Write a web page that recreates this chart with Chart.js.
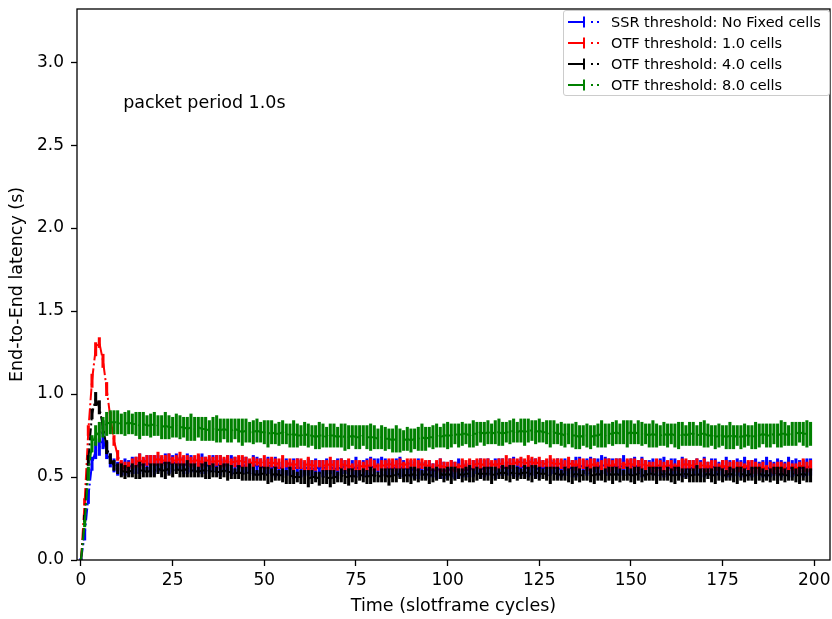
<!DOCTYPE html>
<html>
<head>
<meta charset="utf-8">
<title>End-to-End latency</title>
<script src="https://cdn.jsdelivr.net/npm/chart.js@4"></script>
<style>
  body { margin: 0; background: #fff; }
  #wrap { position: relative; width: 832px; height: 619px; }
  #legend {
    position: absolute; left: 563px; top: 10px; width: 267px; height: 86px;
    box-sizing: border-box; border: 1px solid #ccc; border-radius: 3px;
    background: rgba(255, 255, 255, 0.8);
    font: 14.5px 'DejaVu Sans', sans-serif; color: #000; padding-top: 0px;
  }
  .row { height: 21px; display: flex; align-items: center; white-space: nowrap; }
  .row svg { margin-left: 4px; margin-right: 8px; flex: none; }
</style>
</head>
<body>
<div id="wrap">
  <canvas id="latencyChart" width="832" height="619"></canvas>
  <div id="legend"></div>
</div>
<script>
// cycle index of every sample (0..199)
const CYCLES = Array.from({ length: 200 }, (_, i) => i);

const SERIES_LABELS = [
    'SSR threshold: No Fixed cells',
    'OTF threshold: 1.0 cells',
    'OTF threshold: 4.0 cells',
    'OTF threshold: 8.0 cells'
];
const SERIES_COLORS = ['#0000ff', '#ff0000', '#000000', '#008000'];

// SSR, no fixed cells (blue)
const SSR_MEAN = [
    0.00, 0.15, 0.38, 0.58, 0.66, 0.68, 0.72, 0.66, 0.60, 0.57,
    0.55, 0.55, 0.56, 0.56, 0.57, 0.57, 0.58, 0.57, 0.58, 0.58,
    0.57, 0.58, 0.58, 0.59, 0.58, 0.58, 0.59, 0.58, 0.57, 0.58,
    0.58, 0.57, 0.58, 0.58, 0.57, 0.57, 0.58, 0.58, 0.57, 0.57,
    0.58, 0.57, 0.57, 0.56, 0.57, 0.57, 0.56, 0.57, 0.57, 0.56,
    0.56, 0.57, 0.56, 0.56, 0.55, 0.56, 0.56, 0.55, 0.55, 0.56,
    0.55, 0.55, 0.56, 0.55, 0.55, 0.56, 0.55, 0.56, 0.56, 0.55,
    0.55, 0.56, 0.56, 0.55, 0.55, 0.56, 0.55, 0.55, 0.56, 0.56,
    0.56, 0.57, 0.56, 0.56, 0.55, 0.55, 0.56, 0.56, 0.55, 0.55,
    0.55, 0.54, 0.55, 0.55, 0.54, 0.55, 0.54, 0.54, 0.55, 0.54,
    0.54, 0.55, 0.54, 0.55, 0.55, 0.54, 0.55, 0.55, 0.56, 0.55,
    0.55, 0.56, 0.55, 0.55, 0.56, 0.56, 0.55, 0.56, 0.56, 0.55,
    0.56, 0.56, 0.55, 0.56, 0.55, 0.55, 0.56, 0.55, 0.56, 0.56,
    0.55, 0.55, 0.56, 0.56, 0.55, 0.56, 0.57, 0.56, 0.56, 0.57,
    0.57, 0.56, 0.57, 0.57, 0.56, 0.57, 0.56, 0.56, 0.57, 0.56,
    0.56, 0.57, 0.56, 0.56, 0.55, 0.56, 0.56, 0.55, 0.56, 0.56,
    0.55, 0.56, 0.56, 0.55, 0.56, 0.55, 0.55, 0.56, 0.56, 0.55,
    0.56, 0.55, 0.56, 0.56, 0.55, 0.55, 0.56, 0.55, 0.55, 0.56,
    0.55, 0.56, 0.55, 0.55, 0.56, 0.55, 0.55, 0.56, 0.55, 0.55,
    0.56, 0.55, 0.55, 0.56, 0.55, 0.56, 0.56, 0.55, 0.56, 0.56
];
const SSR_ERR = [
    0.01, 0.03, 0.04, 0.04, 0.05, 0.05, 0.05, 0.05, 0.04, 0.04,
    0.04, 0.04, 0.05, 0.04, 0.05, 0.05, 0.06, 0.04, 0.05, 0.05,
    0.06, 0.05, 0.04, 0.05, 0.06, 0.05, 0.05, 0.04, 0.05, 0.06,
    0.05, 0.04, 0.05, 0.06, 0.05, 0.04, 0.05, 0.05, 0.06, 0.04,
    0.05, 0.06, 0.05, 0.04, 0.05, 0.05, 0.04, 0.06, 0.05, 0.05,
    0.04, 0.05, 0.05, 0.06, 0.04, 0.05, 0.05, 0.04, 0.06, 0.05,
    0.05, 0.04, 0.05, 0.05, 0.06, 0.04, 0.05, 0.05, 0.04, 0.05,
    0.06, 0.05, 0.04, 0.05, 0.05, 0.06, 0.04, 0.05, 0.05, 0.06,
    0.05, 0.04, 0.06, 0.05, 0.05, 0.04, 0.05, 0.06, 0.05, 0.04,
    0.05, 0.05, 0.06, 0.04, 0.05, 0.05, 0.04, 0.05, 0.06, 0.05,
    0.04, 0.05, 0.05, 0.06, 0.05, 0.04, 0.05, 0.05, 0.04, 0.06,
    0.05, 0.05, 0.04, 0.06, 0.05, 0.05, 0.04, 0.05, 0.06, 0.05,
    0.05, 0.04, 0.05, 0.05, 0.06, 0.05, 0.04, 0.05, 0.05, 0.04,
    0.06, 0.05, 0.05, 0.04, 0.05, 0.06, 0.05, 0.04, 0.05, 0.05,
    0.04, 0.05, 0.06, 0.05, 0.05, 0.04, 0.05, 0.05, 0.06, 0.04,
    0.05, 0.05, 0.04, 0.06, 0.05, 0.04, 0.05, 0.05, 0.05, 0.06,
    0.04, 0.05, 0.05, 0.04, 0.06, 0.05, 0.05, 0.04, 0.05, 0.05,
    0.06, 0.04, 0.05, 0.05, 0.04, 0.05, 0.06, 0.05, 0.04, 0.05,
    0.05, 0.06, 0.04, 0.05, 0.05, 0.04, 0.05, 0.06, 0.05, 0.04,
    0.05, 0.05, 0.04, 0.06, 0.05, 0.05, 0.04, 0.05, 0.05, 0.05
];

// OTF threshold 1.0 cells (red)
const OTF1_MEAN = [
    0.00, 0.35, 0.78, 1.08, 1.27, 1.31, 1.20, 1.03, 0.86, 0.72,
    0.63, 0.57, 0.56, 0.57, 0.58, 0.59, 0.60, 0.59, 0.60, 0.60,
    0.60, 0.61, 0.60, 0.60, 0.61, 0.60, 0.60, 0.61, 0.60, 0.60,
    0.59, 0.60, 0.60, 0.59, 0.60, 0.60, 0.59, 0.60, 0.59, 0.59,
    0.60, 0.59, 0.59, 0.60, 0.59, 0.59, 0.58, 0.59, 0.59, 0.58,
    0.59, 0.58, 0.59, 0.58, 0.58, 0.59, 0.58, 0.58, 0.57, 0.58,
    0.58, 0.57, 0.58, 0.57, 0.57, 0.58, 0.57, 0.57, 0.58, 0.57,
    0.57, 0.58, 0.57, 0.57, 0.56, 0.57, 0.57, 0.56, 0.57, 0.57,
    0.57, 0.56, 0.57, 0.57, 0.58, 0.57, 0.57, 0.58, 0.57, 0.58,
    0.58, 0.57, 0.57, 0.58, 0.57, 0.57, 0.56, 0.57, 0.57, 0.56,
    0.56, 0.57, 0.56, 0.56, 0.57, 0.57, 0.58, 0.57, 0.58, 0.58,
    0.57, 0.58, 0.58, 0.57, 0.58, 0.58, 0.59, 0.58, 0.58, 0.59,
    0.59, 0.58, 0.59, 0.59, 0.58, 0.59, 0.58, 0.58, 0.59, 0.58,
    0.58, 0.58, 0.57, 0.58, 0.58, 0.57, 0.58, 0.58, 0.57, 0.57,
    0.58, 0.57, 0.57, 0.58, 0.57, 0.57, 0.58, 0.58, 0.57, 0.58,
    0.58, 0.57, 0.57, 0.58, 0.57, 0.57, 0.56, 0.57, 0.57, 0.56,
    0.57, 0.57, 0.56, 0.57, 0.57, 0.58, 0.57, 0.57, 0.58, 0.57,
    0.57, 0.56, 0.57, 0.57, 0.56, 0.57, 0.56, 0.56, 0.57, 0.56,
    0.56, 0.56, 0.57, 0.56, 0.56, 0.55, 0.56, 0.55, 0.56, 0.55,
    0.55, 0.56, 0.55, 0.56, 0.56, 0.55, 0.56, 0.57, 0.56, 0.57
];
const OTF1_ERR = [
    0.00, 0.02, 0.03, 0.04, 0.04, 0.03, 0.04, 0.04, 0.03, 0.03,
    0.03, 0.03, 0.03, 0.02, 0.03, 0.03, 0.04, 0.03, 0.03, 0.03,
    0.03, 0.04, 0.03, 0.03, 0.03, 0.02, 0.03, 0.04, 0.03, 0.03,
    0.03, 0.03, 0.04, 0.03, 0.02, 0.03, 0.03, 0.03, 0.04, 0.03,
    0.03, 0.02, 0.03, 0.03, 0.04, 0.03, 0.03, 0.03, 0.02, 0.03,
    0.04, 0.03, 0.03, 0.03, 0.03, 0.04, 0.02, 0.03, 0.03, 0.03,
    0.03, 0.03, 0.04, 0.03, 0.03, 0.02, 0.03, 0.03, 0.04, 0.03,
    0.03, 0.03, 0.03, 0.04, 0.02, 0.03, 0.03, 0.03, 0.03, 0.04,
    0.03, 0.02, 0.03, 0.03, 0.03, 0.04, 0.03, 0.03, 0.02, 0.03,
    0.03, 0.04, 0.03, 0.03, 0.03, 0.03, 0.02, 0.03, 0.04, 0.03,
    0.03, 0.03, 0.03, 0.02, 0.04, 0.03, 0.03, 0.03, 0.03, 0.03,
    0.04, 0.03, 0.02, 0.03, 0.03, 0.03, 0.04, 0.03, 0.03, 0.02,
    0.03, 0.03, 0.04, 0.03, 0.03, 0.03, 0.02, 0.03, 0.04, 0.03,
    0.03, 0.03, 0.03, 0.04, 0.02, 0.03, 0.03, 0.03, 0.03, 0.04,
    0.03, 0.02, 0.03, 0.03, 0.04, 0.03, 0.03, 0.03, 0.02, 0.03,
    0.03, 0.04, 0.03, 0.03, 0.03, 0.02, 0.03, 0.04, 0.03, 0.03,
    0.03, 0.03, 0.02, 0.03, 0.04, 0.03, 0.03, 0.03, 0.03, 0.02,
    0.04, 0.03, 0.03, 0.03, 0.02, 0.03, 0.04, 0.03, 0.03, 0.03,
    0.03, 0.02, 0.03, 0.04, 0.03, 0.03, 0.03, 0.02, 0.03, 0.03,
    0.04, 0.03, 0.03, 0.03, 0.02, 0.03, 0.03, 0.04, 0.03, 0.03
];

// OTF threshold 4.0 cells (black)
const OTF4_MEAN = [
    0.00, 0.25, 0.60, 0.88, 0.97, 0.92, 0.80, 0.68, 0.61, 0.57,
    0.55, 0.54, 0.53, 0.53, 0.54, 0.53, 0.54, 0.54, 0.53, 0.54,
    0.54, 0.55, 0.54, 0.54, 0.55, 0.54, 0.55, 0.54, 0.54, 0.55,
    0.54, 0.54, 0.53, 0.54, 0.54, 0.53, 0.54, 0.53, 0.53, 0.54,
    0.53, 0.53, 0.52, 0.53, 0.52, 0.52, 0.53, 0.52, 0.51, 0.52,
    0.52, 0.51, 0.51, 0.52, 0.51, 0.51, 0.50, 0.51, 0.50, 0.50,
    0.50, 0.50, 0.49, 0.50, 0.50, 0.49, 0.50, 0.50, 0.49, 0.50,
    0.50, 0.51, 0.50, 0.50, 0.51, 0.50, 0.51, 0.51, 0.50, 0.51,
    0.51, 0.50, 0.51, 0.51, 0.50, 0.51, 0.51, 0.52, 0.51, 0.51,
    0.51, 0.52, 0.51, 0.51, 0.52, 0.51, 0.51, 0.52, 0.52, 0.51,
    0.52, 0.51, 0.52, 0.52, 0.51, 0.52, 0.52, 0.51, 0.52, 0.52,
    0.52, 0.52, 0.51, 0.52, 0.52, 0.53, 0.52, 0.52, 0.53, 0.52,
    0.52, 0.53, 0.52, 0.52, 0.53, 0.52, 0.52, 0.52, 0.51, 0.52,
    0.52, 0.51, 0.52, 0.51, 0.51, 0.52, 0.51, 0.51, 0.52, 0.51,
    0.51, 0.52, 0.51, 0.51, 0.52, 0.51, 0.52, 0.51, 0.51, 0.52,
    0.51, 0.51, 0.52, 0.51, 0.51, 0.52, 0.52, 0.51, 0.52, 0.51,
    0.52, 0.51, 0.51, 0.52, 0.51, 0.52, 0.51, 0.51, 0.52, 0.51,
    0.51, 0.52, 0.51, 0.51, 0.52, 0.51, 0.51, 0.52, 0.51, 0.51,
    0.52, 0.51, 0.51, 0.52, 0.51, 0.52, 0.51, 0.51, 0.51, 0.52,
    0.51, 0.52, 0.51, 0.51, 0.52, 0.51, 0.51, 0.52, 0.51, 0.51
];
const OTF4_ERR = [
    0.00, 0.02, 0.03, 0.03, 0.04, 0.04, 0.04, 0.04, 0.03, 0.03,
    0.03, 0.04, 0.04, 0.03, 0.04, 0.04, 0.05, 0.04, 0.03, 0.04,
    0.04, 0.03, 0.04, 0.05, 0.04, 0.04, 0.03, 0.04, 0.04, 0.05,
    0.04, 0.04, 0.03, 0.04, 0.05, 0.04, 0.04, 0.03, 0.04, 0.04,
    0.05, 0.04, 0.03, 0.04, 0.04, 0.04, 0.05, 0.04, 0.03, 0.04,
    0.04, 0.05, 0.04, 0.04, 0.03, 0.04, 0.04, 0.05, 0.04, 0.03,
    0.04, 0.04, 0.05, 0.04, 0.03, 0.04, 0.04, 0.04, 0.05, 0.04,
    0.03, 0.04, 0.04, 0.05, 0.04, 0.04, 0.03, 0.04, 0.04, 0.05,
    0.04, 0.03, 0.04, 0.04, 0.05, 0.04, 0.04, 0.03, 0.04, 0.04,
    0.05, 0.04, 0.04, 0.03, 0.04, 0.05, 0.04, 0.04, 0.03, 0.04,
    0.04, 0.05, 0.04, 0.03, 0.04, 0.04, 0.05, 0.04, 0.04, 0.03,
    0.04, 0.04, 0.05, 0.04, 0.03, 0.04, 0.04, 0.05, 0.04, 0.04,
    0.03, 0.04, 0.04, 0.05, 0.04, 0.04, 0.03, 0.04, 0.05, 0.04,
    0.04, 0.03, 0.04, 0.04, 0.05, 0.04, 0.04, 0.03, 0.04, 0.04,
    0.05, 0.04, 0.03, 0.04, 0.04, 0.05, 0.04, 0.04, 0.03, 0.04,
    0.04, 0.05, 0.04, 0.04, 0.03, 0.04, 0.04, 0.05, 0.04, 0.03,
    0.04, 0.04, 0.05, 0.04, 0.04, 0.03, 0.04, 0.04, 0.05, 0.04,
    0.04, 0.03, 0.04, 0.05, 0.04, 0.04, 0.03, 0.04, 0.04, 0.05,
    0.04, 0.04, 0.03, 0.04, 0.05, 0.04, 0.04, 0.03, 0.04, 0.04,
    0.05, 0.04, 0.04, 0.03, 0.04, 0.04, 0.05, 0.04, 0.04, 0.04
];

// OTF threshold 8.0 cells (green)
const OTF8_MEAN = [
    0.00, 0.22, 0.52, 0.70, 0.75, 0.77, 0.80, 0.82, 0.83, 0.83,
    0.83, 0.82, 0.82, 0.83, 0.82, 0.82, 0.81, 0.82, 0.81, 0.81,
    0.82, 0.81, 0.80, 0.81, 0.80, 0.80, 0.81, 0.80, 0.80, 0.79,
    0.80, 0.79, 0.80, 0.79, 0.79, 0.78, 0.79, 0.79, 0.78, 0.79,
    0.78, 0.78, 0.79, 0.78, 0.77, 0.78, 0.77, 0.77, 0.78, 0.77,
    0.77, 0.76, 0.77, 0.76, 0.76, 0.77, 0.76, 0.75, 0.76, 0.75,
    0.75, 0.76, 0.75, 0.75, 0.74, 0.75, 0.75, 0.74, 0.75, 0.75,
    0.74, 0.75, 0.74, 0.74, 0.75, 0.74, 0.74, 0.75, 0.74, 0.74,
    0.74, 0.73, 0.74, 0.73, 0.73, 0.72, 0.73, 0.72, 0.72, 0.73,
    0.72, 0.73, 0.73, 0.74, 0.73, 0.74, 0.74, 0.75, 0.74, 0.75,
    0.75, 0.75, 0.76, 0.75, 0.76, 0.76, 0.75, 0.76, 0.76, 0.77,
    0.76, 0.77, 0.76, 0.77, 0.77, 0.76, 0.77, 0.77, 0.78, 0.77,
    0.78, 0.77, 0.78, 0.78, 0.77, 0.78, 0.77, 0.77, 0.76, 0.77,
    0.76, 0.76, 0.75, 0.76, 0.75, 0.75, 0.74, 0.75, 0.75, 0.74,
    0.75, 0.75, 0.76, 0.75, 0.76, 0.76, 0.77, 0.76, 0.77, 0.76,
    0.77, 0.76, 0.77, 0.76, 0.76, 0.75, 0.76, 0.75, 0.75, 0.76,
    0.75, 0.76, 0.75, 0.75, 0.76, 0.75, 0.76, 0.76, 0.75, 0.76,
    0.76, 0.75, 0.75, 0.74, 0.75, 0.75, 0.74, 0.75, 0.74, 0.75,
    0.74, 0.75, 0.75, 0.74, 0.75, 0.75, 0.76, 0.75, 0.75, 0.76,
    0.75, 0.76, 0.76, 0.75, 0.76, 0.76, 0.77, 0.76, 0.76, 0.76
];
const OTF8_ERR = [
    0.00, 0.02, 0.04, 0.05, 0.06, 0.06, 0.06, 0.07, 0.07, 0.07,
    0.07, 0.06, 0.07, 0.07, 0.06, 0.07, 0.08, 0.07, 0.06, 0.07,
    0.07, 0.06, 0.07, 0.08, 0.07, 0.06, 0.07, 0.07, 0.06, 0.07,
    0.08, 0.07, 0.06, 0.07, 0.07, 0.06, 0.07, 0.08, 0.07, 0.06,
    0.07, 0.07, 0.06, 0.07, 0.08, 0.07, 0.06, 0.07, 0.07, 0.06,
    0.07, 0.08, 0.07, 0.06, 0.07, 0.07, 0.06, 0.07, 0.08, 0.07,
    0.06, 0.07, 0.07, 0.06, 0.07, 0.08, 0.07, 0.06, 0.07, 0.07,
    0.06, 0.07, 0.08, 0.07, 0.06, 0.07, 0.07, 0.06, 0.07, 0.08,
    0.07, 0.06, 0.07, 0.07, 0.06, 0.07, 0.08, 0.07, 0.06, 0.07,
    0.07, 0.06, 0.07, 0.08, 0.07, 0.06, 0.07, 0.07, 0.06, 0.07,
    0.08, 0.07, 0.06, 0.07, 0.07, 0.06, 0.07, 0.08, 0.07, 0.06,
    0.07, 0.07, 0.06, 0.07, 0.08, 0.07, 0.06, 0.07, 0.07, 0.06,
    0.07, 0.08, 0.07, 0.06, 0.07, 0.07, 0.06, 0.07, 0.08, 0.07,
    0.06, 0.07, 0.07, 0.06, 0.07, 0.08, 0.07, 0.06, 0.07, 0.07,
    0.06, 0.07, 0.08, 0.07, 0.06, 0.07, 0.07, 0.06, 0.07, 0.08,
    0.07, 0.06, 0.07, 0.07, 0.06, 0.07, 0.08, 0.07, 0.06, 0.07,
    0.07, 0.06, 0.07, 0.08, 0.07, 0.06, 0.07, 0.07, 0.06, 0.07,
    0.08, 0.07, 0.06, 0.07, 0.07, 0.06, 0.07, 0.08, 0.07, 0.06,
    0.07, 0.07, 0.06, 0.07, 0.08, 0.07, 0.06, 0.07, 0.07, 0.06,
    0.07, 0.08, 0.07, 0.06, 0.07, 0.07, 0.06, 0.07, 0.08, 0.07
];

const X_TICKS = [0, 25, 50, 75, 100, 125, 150, 175, 200];
const Y_TICKS = [0, 0.5, 1.0, 1.5, 2.0, 2.5, 3.0];
const NOTE_TEXT = 'packet period 1.0s';

const FONT = "'DejaVu Sans', sans-serif";
const MEANS = [SSR_MEAN, OTF1_MEAN, OTF4_MEAN, OTF8_MEAN];
const ERRS = [SSR_ERR, OTF1_ERR, OTF4_ERR, OTF8_ERR];

MEANS.concat(ERRS).forEach(a => {
    if (a.length !== CYCLES.length) throw new Error('bad array length ' + a.length);
});

// build datasets: one floating-bar set for the error bars + one dash-dot line per series
function buildDatasets() {
    const sets = [];
    MEANS.forEach((mean, s) => {
        const err = ERRS[s];
        const order = MEANS.length - s; // later series drawn on top, like matplotlib
        sets.push({
            type: 'bar',
            label: SERIES_LABELS[s] + ' (err)',
            data: CYCLES.map(i => ({ x: i, y: [mean[i] - err[i], mean[i] + err[i]] })),
            backgroundColor: SERIES_COLORS[s],
            borderWidth: 0,
            barThickness: 2.4,
            grouped: false,
            order: order
        });
        sets.push({
            type: 'line',
            label: SERIES_LABELS[s],
            data: CYCLES.map(i => ({ x: i, y: mean[i] })),
            borderColor: SERIES_COLORS[s],
            borderWidth: 2,
            borderDash: [12, 3, 2, 3],
            pointRadius: 0,
            fill: false,
            tension: 0,
            order: order - 0.5
        });
    });
    return sets;
}

// axes frame on all four sides
const framePlugin = {
    id: 'frame',
    afterDatasetsDraw(chart) {
        const { ctx, chartArea: a } = chart;
        ctx.save();
        ctx.strokeStyle = '#000';
        ctx.lineWidth = 1.3;
        ctx.strokeRect(a.left, a.top, a.right - a.left, a.bottom - a.top);
        ctx.restore();
    }
};

// "packet period 1.0s" text placed in data coordinates
const notePlugin = {
    id: 'note',
    afterDraw(chart) {
        const { ctx, scales } = chart;
        ctx.save();
        ctx.font = '17.5px ' + FONT;
        ctx.fillStyle = '#000';
        ctx.textBaseline = 'middle';
        ctx.textAlign = 'left';
        ctx.fillText(NOTE_TEXT, scales.x.getPixelForValue(11.5), scales.y.getPixelForValue(2.75));
        ctx.restore();
    }
};

function initChart() {
    Chart.defaults.font.family = FONT;
    Chart.defaults.color = '#000';

    const tickGrid = { offset: false, drawOnChartArea: false, drawTicks: true, tickLength: 6, tickWidth: 1.3, tickColor: '#000' };

    const ctx = document.getElementById('latencyChart').getContext('2d');
    new Chart(ctx, {
        type: 'line',
        data: { datasets: buildDatasets() },
        options: {
            responsive: false,
            animation: false,
            devicePixelRatio: 1,
            layout: { padding: { top: 9, right: 2, left: 0, bottom: 0 } },
            plugins: { legend: { display: false }, tooltip: { enabled: false } },
            scales: {
                x: {
                    type: 'linear',
                    min: -1.09,
                    max: 204.3,
                    offset: false,
                    afterBuildTicks: s => { s.ticks = X_TICKS.map(v => ({ value: v })); },
                    afterFit: s => { s.height = 59; s.paddingLeft = 0; s.paddingRight = 0; },
                    grid: tickGrid,
                    border: { display: false },
                    ticks: { color: '#000', font: { size: 17 }, padding: 4, maxRotation: 0, autoSkip: false },
                    title: { display: true, text: 'Time (slotframe cycles)', color: '#000', font: { size: 17.5 }, padding: { top: 0, bottom: 2 } }
                },
                y: {
                    type: 'linear',
                    min: 0,
                    max: 3.32,
                    afterBuildTicks: s => { s.ticks = Y_TICKS.map(v => ({ value: v })); },
                    afterFit: s => { s.width = 77; s.paddingTop = 0; s.paddingBottom = 0; },
                    grid: tickGrid,
                    border: { display: false },
                    ticks: { color: '#000', font: { size: 17 }, padding: 7, callback: v => v.toFixed(1) },
                    title: { display: true, text: 'End-to-End latency (s)', color: '#000', font: { size: 17.5 }, padding: { top: 7, bottom: 0 } }
                }
            }
        },
        plugins: [framePlugin, notePlugin]
    });
}

// legend box in the top-right corner, errorbar handle + dash-dot tail
function buildLegend() {
    const box = document.getElementById('legend');
    SERIES_LABELS.forEach((label, s) => {
        const c = SERIES_COLORS[s];
        const row = document.createElement('div');
        row.className = 'row';
        row.innerHTML = `
            <svg width="35" height="14" viewBox="0 0 35 14">
                <line x1="0" y1="7" x2="17" y2="7" stroke="${c}" stroke-width="2"/>
                <line x1="16" y1="1.5" x2="16" y2="12.5" stroke="${c}" stroke-width="2"/>
                <rect x="23" y="6" width="2" height="2" fill="${c}"/>
                <rect x="29" y="6" width="2" height="2" fill="${c}"/>
            </svg>
            <span>${label}</span>`;
        box.appendChild(row);
    });
}

document.addEventListener('DOMContentLoaded', function () {
    initChart();
    buildLegend();
});
</script>
</body>
</html>
